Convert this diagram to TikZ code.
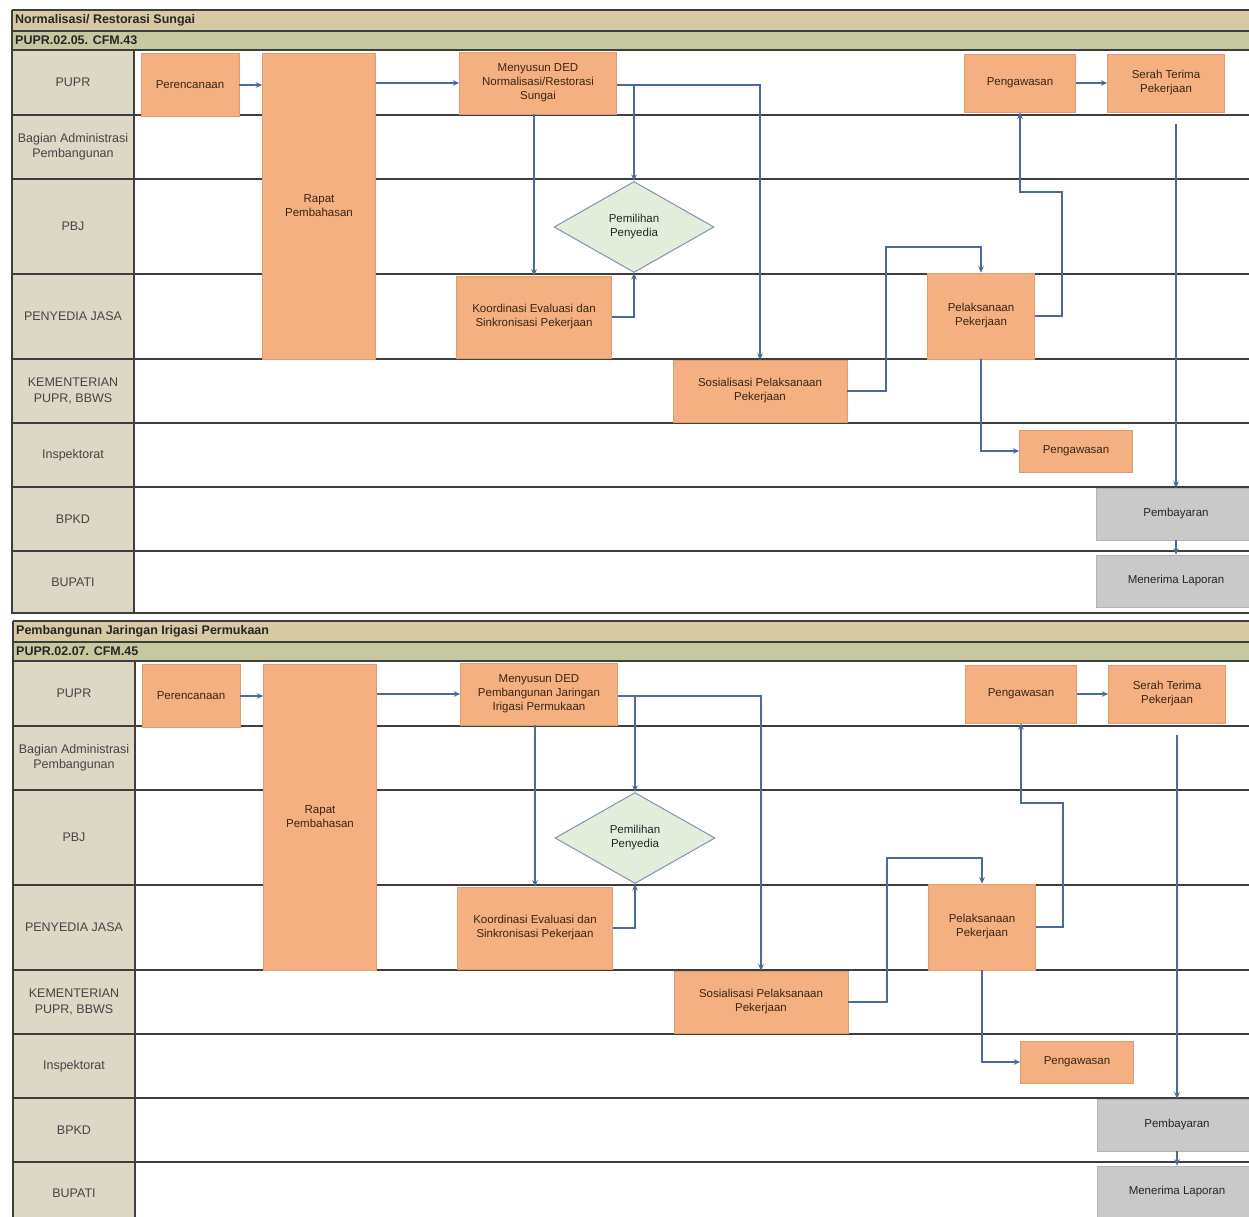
\documentclass[tikz,border=0pt]{standalone}
\usepackage{fontspec}
\setmainfont{Liberation Sans}
\usetikzlibrary{shapes.geometric,arrows.meta}
\definecolor{orangebox}{HTML}{F4B081}
\definecolor{orangeedge}{HTML}{E09E70}
\definecolor{graybg}{HTML}{C9C9C9}
\definecolor{grayedge}{HTML}{B4B4B4}
\definecolor{diamondbg}{HTML}{E2EDDC}
\definecolor{diamondedge}{HTML}{8393AE}
\definecolor{flowcol}{HTML}{4C6A9E}
\definecolor{lanecol}{HTML}{3E3E3E}
\definecolor{lanebg}{HTML}{DCD8C5}
\definecolor{titlebg}{HTML}{D6C9A3}
\definecolor{codebg}{HTML}{C6C9A0}
\definecolor{nodetext}{HTML}{3A2414}
\definecolor{lanetext}{HTML}{454545}
\newcommand\nodefont{\fontsize{11.5}{14}\selectfont}
\newcommand\lanefont{\fontsize{12.5}{15.5}\selectfont}
\newcommand\titlefont{\fontsize{12.5}{14}\selectfont\bfseries}
\tikzset{
  box/.style={rectangle, fill=orangebox, draw=orangeedge, line width=0.5pt, align=center, inner sep=2pt, font=\nodefont, text=nodetext},
  graybox/.style={box, fill=graybg, draw=grayedge, text=black!85},
  decision/.style={diamond, fill=diamondbg, draw=diamondedge, line width=1pt, align=center, inner sep=0pt, font=\nodefont, text=black!85},
  flow/.style={draw=flowcol, line width=1.1pt, -{Stealth[length=6.5pt,width=5.5pt]}},
  lanesep/.style={draw=lanecol, line width=1.5pt},
  lanelabel/.style={font=\lanefont, text=lanetext, align=center, inner sep=0pt},
  titletext/.style={anchor=west, font=\titlefont, text=black!85, inner sep=0pt}
}
\newcommand\swimpanel[4]{%
  \fill[titlebg] (12,10) rectangle (1262,31);
  \fill[codebg] (12,31) rectangle (1262,50);
  \fill[lanebg] (12,50) rectangle (134,614);
  \foreach \yy in {10,31,50,115,179,274,359,423,487,551,613}
    \draw[lanesep] (12,\yy) -- (1262,\yy);
  \draw[lanesep] (12,10) -- (12,614);
  \draw[lanesep] (134,50) -- (134,614);
  \node[titletext] (#1title) at (15,20.5) {#2};
  \node[titletext] (#1code) at (15,40.5) {#3};
  \node[lanelabel] (#1la) at (73,82.5) {PUPR};
  \node[lanelabel] (#1lb) at (73,147) {Bagian Administrasi\\Pembangunan};
  \node[lanelabel] (#1lc) at (73,226.5) {PBJ};
  \node[lanelabel] (#1ld) at (73,316.5) {PENYEDIA JASA};
  \node[lanelabel] (#1le) at (73,391) {KEMENTERIAN\\PUPR, BBWS};
  \node[lanelabel] (#1lf) at (73,455) {Inspektorat};
  \node[lanelabel] (#1lg) at (73,519) {BPKD};
  \node[lanelabel] (#1lh) at (73,582) {BUPATI};
  % process nodes
  \node[box, minimum width=98, minimum height=63] (#1peren) at (190,85) {Perencanaan};
  \node[box, minimum width=113, minimum height=306] (#1rapat) at (319,206) {Rapat\\Pembahasan};
  \node[box, minimum width=157, minimum height=62] (#1ded) at (538,83) {#4};
  \node[decision, minimum width=160, minimum height=91] (#1dia) at (634,227) {Pemilihan\\Penyedia};
  \node[box, minimum width=155, minimum height=82] (#1koor) at (534,317) {Koordinasi Evaluasi dan\\Sinkronisasi Pekerjaan};
  \node[box, minimum width=174, minimum height=62] (#1sos) at (760,391) {Sosialisasi Pelaksanaan\\Pekerjaan};
  \node[box, minimum width=107, minimum height=86] (#1pel) at (981,316) {Pelaksanaan\\Pekerjaan};
  \node[box, minimum width=111, minimum height=58] (#1peng) at (1020,83) {Pengawasan};
  \node[box, minimum width=117, minimum height=58] (#1serah) at (1166,83) {Serah Terima\\Pekerjaan};
  \node[box, minimum width=113, minimum height=42] (#1insp) at (1076,451) {Pengawasan};
  \node[graybox, minimum width=160, minimum height=52] (#1bay) at (1176,514) {Pembayaran};
  \node[graybox, minimum width=160, minimum height=52] (#1terima) at (1176,581) {Menerima Laporan};
  \coordinate (#1j1) at (886,247);
  \coordinate (#1j2) at (1062,192);
  % connectors
  \draw[flow] (#1peren.east) -- (#1peren.east -| #1rapat.west);
  \draw[flow] (#1ded.west -| #1rapat.east) -- (#1ded.west);
  \draw[flow] ([yshift=-2pt]#1ded.east) -| (#1sos.north);
  \draw[flow] ([yshift=-2pt]#1ded.east -| #1dia.north) -- (#1dia.north);
  \draw[flow] (#1ded.south -| #1koor.north) -- (#1koor.north);
  \draw[flow] (#1koor.east) -| (#1dia.south);
  \draw[flow] (#1sos.east) -| (#1j1) -| (#1pel.north);
  \draw[flow] (#1pel.east) -| (#1j2) -| (#1peng.south);
  \draw[flow] (#1peng.east) -- (#1serah.west);
  \draw[flow] ([yshift=-12pt]#1serah.south -| #1bay.north) -- (#1bay.north);
  \draw[flow] (#1bay.south) -- (#1terima.north);
  \draw[flow] (#1pel.south) |- (#1insp.west);
}
\begin{document}
\begin{tikzpicture}[x=1pt,y=-1pt]
  \clip (0,0) rectangle (1249,1216);
  \fill[white] (0,0) rectangle (1249,1216);
  \begin{scope}
    \swimpanel{a}{Normalisasi/ Restorasi Sungai}{PUPR.02.05. CFM.43}{Menyusun DED\\Normalisasi/Restorasi\\Sungai}
  \end{scope}
  \begin{scope}[shift={(1,611)}]
    \swimpanel{b}{Pembangunan Jaringan Irigasi Permukaan}{PUPR.02.07. CFM.45}{Menyusun DED\\Pembangunan Jaringan\\Irigasi Permukaan}
  \end{scope}
\end{tikzpicture}
\end{document}
